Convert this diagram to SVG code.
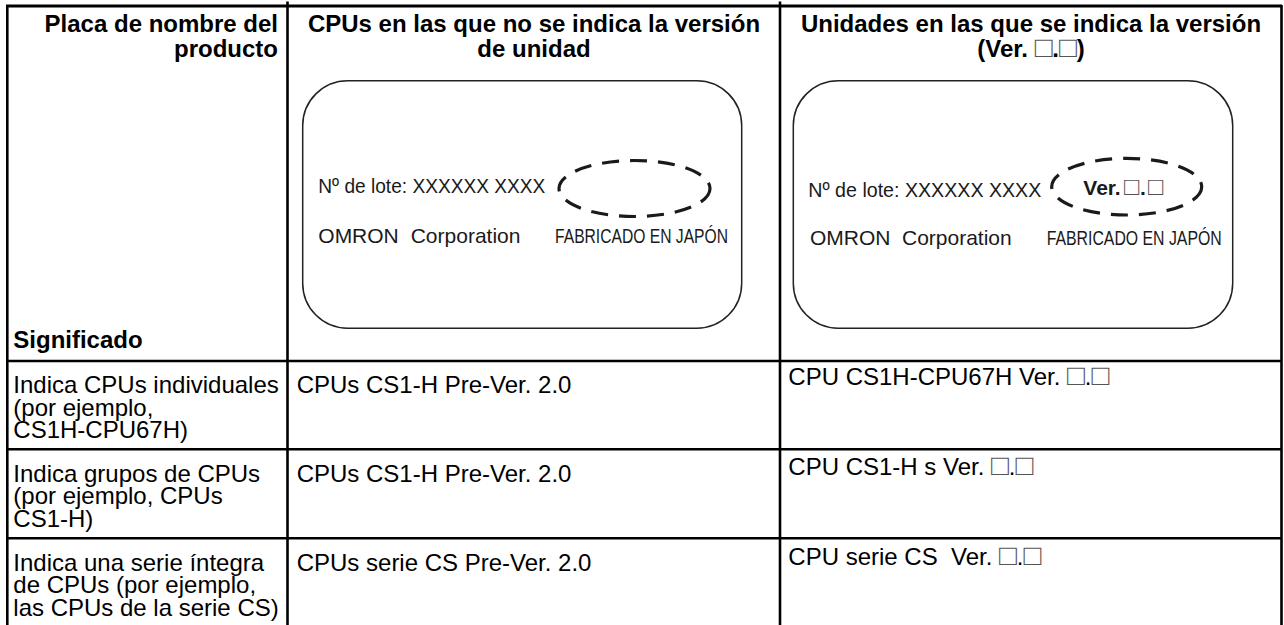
<svg xmlns="http://www.w3.org/2000/svg" width="1284" height="625" viewBox="0 0 1284 625">
<style>
.t{font-family:"Liberation Sans",Arial,"DejaVu Sans",sans-serif;fill:#000}
.h{font-size:24px;font-weight:bold}
.b{font-size:24px}
.p{font-size:21px;fill:#1a1a1a}
.pb{font-size:21px;font-weight:bold;fill:#1a1a1a}
.sq{fill:#555;font-weight:normal;font-size:1.22em}
.grid line{stroke:#000;stroke-width:2.6}
.plate{fill:none;stroke:#222;stroke-width:1.5}
.oval{fill:none;stroke:#1a1a1a;stroke-width:3.2;stroke-dasharray:17 11}
</style>
<rect width="1284" height="625" fill="#fff"/>
<g id="table-lines" class="grid">
  <line x1="6" y1="6" x2="1282" y2="6" style="stroke-width:3"/>
  <line x1="7.3" y1="5" x2="7.3" y2="625"/>
  <line x1="287.5" y1="1.5" x2="287.5" y2="625"/>
  <line x1="780" y1="1.5" x2="780" y2="625"/>
  <line x1="1281.5" y1="5" x2="1281.5" y2="625"/>
  <line x1="6" y1="361" x2="1282" y2="361"/>
  <line x1="6" y1="449.3" x2="1282" y2="449.3"/>
  <line x1="6" y1="538.3" x2="1282" y2="538.3"/>
</g>
<g id="header-col1" class="t h">
  <text x="278" y="32" text-anchor="end">Placa de nombre del</text>
  <text x="278" y="56.5" text-anchor="end">producto</text>
  <text x="13.3" y="348.3">Significado</text>
</g>
<g id="header-col2" class="t h">
  <text x="534" y="32" text-anchor="middle">CPUs en las que no se indica la versión</text>
  <text x="534" y="56.5" text-anchor="middle">de unidad</text>
</g>
<g id="header-col3" class="t h">
  <text x="1031" y="32" text-anchor="middle">Unidades en las que se indica la versión</text>
  <text x="1031" y="57" text-anchor="middle">(Ver. <tspan class="sq">□</tspan>.<tspan class="sq">□</tspan>)</text>
</g>
<g id="plate-1">
  <rect class="plate" x="302.7" y="80.7" width="439" height="247.5" rx="45" ry="45"/>
  <ellipse class="oval" cx="634.5" cy="188.5" rx="75.5" ry="28"/>
  <text class="t p" x="318.3" y="193.3" textLength="227" lengthAdjust="spacingAndGlyphs">Nº de lote: XXXXXX XXXX</text>
  <text class="t p" x="318.3" y="242.7">OMRON<tspan x="410.7">Corporation</tspan></text>
  <text class="t p" x="555" y="242.7" textLength="173" lengthAdjust="spacingAndGlyphs">FABRICADO EN JAPÓN</text>
</g>
<g id="plate-2">
  <rect class="plate" x="793.3" y="80.7" width="439.4" height="247.5" rx="45" ry="45"/>
  <ellipse class="oval" cx="1126.7" cy="186.7" rx="75" ry="28.3"/>
  <text class="t p" x="808.3" y="196.7" textLength="233" lengthAdjust="spacingAndGlyphs">Nº de lote: XXXXXX XXXX</text>
  <text class="t pb" x="1083.3" y="195">Ver.<tspan class="sq" x="1124">□</tspan><tspan x="1140">.</tspan><tspan class="sq" x="1148">□</tspan></text>
  <text class="t p" x="810" y="245">OMRON<tspan x="902">Corporation</tspan></text>
  <text class="t p" x="1046.7" y="245" textLength="175" lengthAdjust="spacingAndGlyphs">FABRICADO EN JAPÓN</text>
</g>
<g id="row-1">
  <text class="t b" x="13.3" y="393.3">Indica CPUs individuales</text>
  <text class="t b" x="13.3" y="415.8">(por ejemplo,</text>
  <text class="t b" x="13.3" y="438.3">CS1H-CPU67H)</text>
  <text class="t b" x="296.7" y="393.3">CPUs CS1-H Pre-Ver. 2.0</text>
  <text class="t b" x="788.3" y="385">CPU CS1H-CPU67H Ver. <tspan class="sq">□</tspan>.<tspan class="sq">□</tspan></text>
</g>
<g id="row-2">
  <text class="t b" x="13.3" y="481.7">Indica grupos de CPUs</text>
  <text class="t b" x="13.3" y="504.2">(por ejemplo, CPUs</text>
  <text class="t b" x="13.3" y="526.7">CS1-H)</text>
  <text class="t b" x="296.7" y="481.7">CPUs CS1-H Pre-Ver. 2.0</text>
  <text class="t b" x="788.3" y="475">CPU CS1-H s Ver. <tspan class="sq">□</tspan>.<tspan class="sq">□</tspan></text>
</g>
<g id="row-3">
  <text class="t b" x="13.3" y="570.7">Indica una serie íntegra</text>
  <text class="t b" x="13.3" y="593.2">de CPUs (por ejemplo,</text>
  <text class="t b" x="13.3" y="615.7">las CPUs de la serie CS)</text>
  <text class="t b" x="296.7" y="570.7">CPUs serie CS Pre-Ver. 2.0</text>
  <text class="t b" x="788.3" y="565" xml:space="preserve">CPU serie CS  Ver. <tspan class="sq">□</tspan>.<tspan class="sq">□</tspan></text>
</g>
</svg>
